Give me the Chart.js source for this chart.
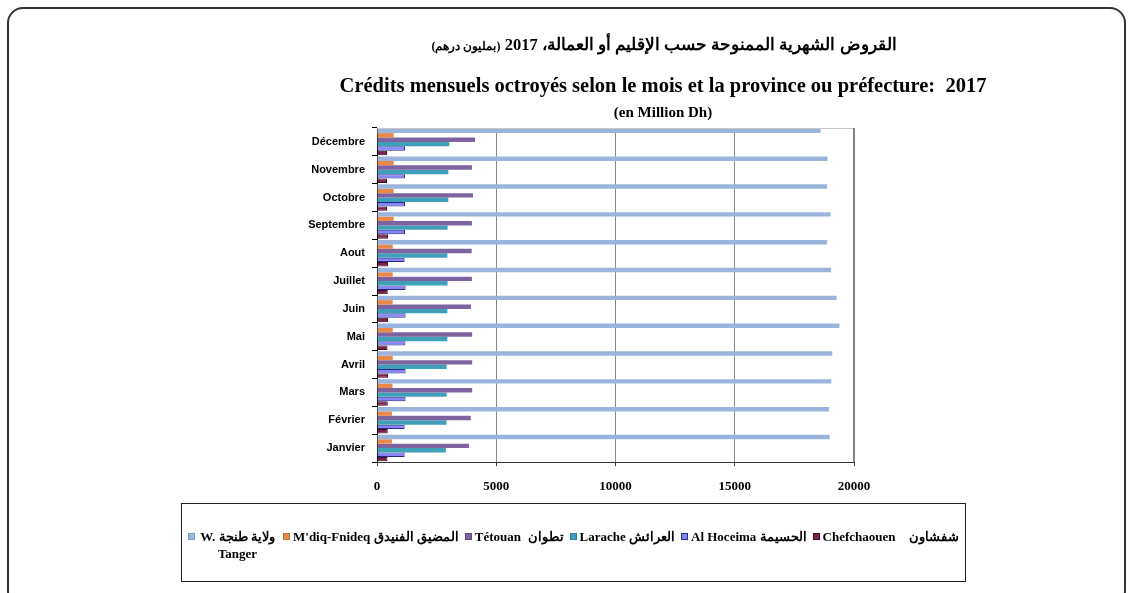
<!DOCTYPE html>
<html><head><meta charset="utf-8">
<script src="https://cdn.jsdelivr.net/npm/chart.js@4"></script>
<style>
html,body{margin:0;padding:0;background:#fff;}
#wrap{position:relative;width:1128px;height:593px;overflow:hidden;}
#frame{position:absolute;left:7px;top:7px;width:1119px;height:600px;border:2px solid #333;border-radius:16px;box-sizing:border-box;}
canvas{position:absolute;left:0;top:0;}
.t{position:absolute;left:263px;width:800px;text-align:center;font-family:"Liberation Serif","DejaVu Serif",serif;font-weight:bold;color:#000;white-space:nowrap;}
#t1{top:35px;left:264px;font-size:16.5px;direction:rtl;}
#t1 small{font-size:12px;}
#t2{top:74px;font-size:20.5px;}
#t3{top:104px;font-size:15px;}
#legend{position:absolute;left:181px;top:503px;width:785px;height:79px;border:1.5px solid #222;box-sizing:border-box;
  font-family:"Liberation Serif","DejaVu Serif",serif;font-weight:bold;font-size:13px;color:#000;
  display:flex;align-items:flex-start;padding:24px 0 0 6px;gap:6px;line-height:17px;}
.item{display:flex;align-items:flex-start;white-space:pre;}
.sw{display:inline-block;width:7px;height:7px;margin:5px 3px 0 0;box-sizing:border-box;border:1px solid #555;flex:none;}
</style></head>
<body><div id="wrap">
<div id="frame"></div>
<canvas id="c" width="1128" height="593"></canvas>
<div class="t" id="t1">القروض الشهرية الممنوحة حسب الإقليم أو العمالة، 2017 <small>(بمليون درهم)</small></div>
<div class="t" id="t2">Crédits mensuels octroyés selon le mois et la province ou préfecture:&nbsp; 2017</div>
<div class="t" id="t3">(en Million Dh)</div>
<div id="legend"></div>
</div>
<script>
const months = ["Janvier","Février","Mars","Avril","Mai","Juin","Juillet","Aout","Septembre","Octobre","Novembre","Décembre"];
const seriesLatin = ["W. Tanger","M'diq-Fnideq","Tétouan","Larache","Al Hoceima","Chefchaouen"];
const seriesArabic = ["ولاية طنجة","المضيق الفنيدق","تطوان","العرائش","الحسيمة","شفشاون"];
const wTanger     = [18980,18950,19050,19090,19390,19270,19040,18870,19020,18870,18890,18600];
const mdiqFnideq  = [630,630,650,660,660,660,660,660,700,700,700,700];
const tetouan     = [3860,3930,3990,3990,3990,3940,3980,3970,3980,4025,3980,4110];
const larache     = [2890,2910,2920,2920,2950,2950,2960,2950,2960,2990,2990,3030];
const alHoceima   = [1160,1160,1200,1200,1190,1200,1200,1160,1175,1175,1175,1175];
const chefchaouen = [440,450,450,460,440,460,450,460,460,420,420,420];
const xMin = 0, xMax = 20000, xStep = 5000;

const fills   = ['#9BB4DC','#E8894A','#7D63A0','#3F9EB8','#8585F7','#7E1E52'];
const borders = ['#7F9CC9','#C0703A','#5E4A80','#2E8099','#2A2A80','#3A0A25'];
const bw      = [0,0,0,0,1,1];
const legendGap = [' ',' ','  ',' ',' ','    '];
const values = [wTanger, mdiqFnideq, tetouan, larache, alHoceima, chefchaouen];

const datasets = values.map((v,i)=>({
  label: seriesLatin[i] + ' ' + seriesArabic[i],
  data: v,
  backgroundColor: fills[i],
  borderColor: borders[i],
  borderWidth: bw[i],
  barPercentage: 1,
  categoryPercentage: 0.95
}));

const plotBorder = {
  id:'plotBorder',
  afterDraw(chart){
    const {ctx, chartArea:a} = chart;
    ctx.save();
    ctx.lineWidth = 1;
    ctx.strokeStyle = '#c8c8c8';
    ctx.beginPath(); ctx.moveTo(a.left, a.top+0.5); ctx.lineTo(a.right, a.top+0.5); ctx.stroke();
    ctx.strokeStyle = '#808080';
    ctx.beginPath(); ctx.moveTo(a.right-0.5, a.top); ctx.lineTo(a.right-0.5, a.bottom); ctx.stroke();
    ctx.restore();
  }
};

const chart = new Chart(document.getElementById('c'), {
  type:'bar',
  data:{labels: months, datasets},
  options:{
    indexAxis:'y',
    responsive:false,
    animation:false,
    layout:{padding:{top:128,right:274,left:0,bottom:0}},
    plugins:{legend:{display:false}, title:{display:false}, tooltip:{enabled:false}},
    scales:{
      x:{
        min:xMin, max:xMax,
        ticks:{stepSize:xStep, color:'#000', padding:13, font:{family:'Liberation Serif', weight:'bold', size:13},
               callback:(v)=>String(v)},
        grid:{color:'#888', tickLength:4, tickColor:'#333'},
        border:{color:'#333', width:1},
        afterFit(s){ s.height = 131; }
      },
      y:{
        reverse:true,
        offset:true,
        ticks:{color:'#000', padding:7, font:{family:'Liberation Sans', weight:'bold', size:11}},
        grid:{offset:true, drawOnChartArea:false, tickLength:5, color:'#000'},
        border:{color:'#000', width:1},
        afterFit(s){ s.width = 377; }
      }
    }
  },
  plugins:[plotBorder]
});

// HTML legend built from the datasets
const lg = document.getElementById('legend');
chart.data.datasets.forEach((d,i)=>{
  const it = document.createElement('div'); it.className='item';
  const sw = document.createElement('span'); sw.className='sw';
  sw.style.background = d.backgroundColor; sw.style.borderColor = d.borderColor;
  const tx = document.createElement('span'); tx.dir='rtl';
  tx.textContent = seriesArabic[i] + legendGap[i] + seriesLatin[i];
  if(i===0){ tx.style.whiteSpace='normal'; tx.style.width='79px'; tx.style.textAlign='center'; }
  it.appendChild(sw); it.appendChild(tx); lg.appendChild(it);
});
</script>
</body></html>
